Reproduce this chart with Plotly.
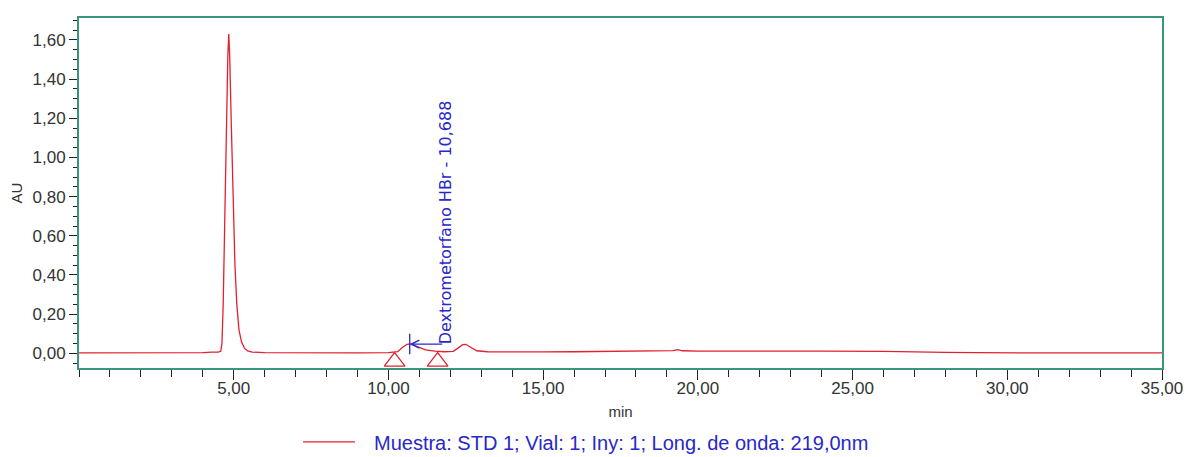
import plotly.graph_objects as go

# Chromatogram trace: retention time (min) and absorbance (AU)
tiempo = [0.0, 1.0, 2.0, 3.0, 4.0, 4.3, 4.5, 4.58, 4.62, 4.66, 4.70, 4.76, 4.81, 4.84,
          4.87, 4.92, 4.98, 5.04, 5.10, 5.17, 5.25, 5.35, 5.45, 5.6, 6.0, 7.0, 8.0,
          9.0, 10.0, 10.3, 10.45, 10.6, 10.7, 10.8, 11.0, 11.2, 11.5, 11.8, 12.1,
          12.25, 12.4, 12.5, 12.65, 12.85, 13.2, 14.0, 15.0, 16.0, 17.0, 18.0, 19.0,
          19.2, 19.35, 19.5, 20.0, 22.0, 24.0, 26.0, 27.0, 28.0, 29.0, 30.0, 32.0, 35.0]
au = [0.002, 0.002, 0.002, 0.002, 0.004, 0.006, 0.006, 0.010, 0.05, 0.25, 0.62, 1.15, 1.52, 1.63,
      1.52, 1.18, 0.80, 0.45, 0.25, 0.12, 0.06, 0.025, 0.012, 0.006, 0.003, 0.002, 0.002,
      0.002, 0.003, 0.008, 0.030, 0.046, 0.048, 0.042, 0.028, 0.018, 0.011, 0.008, 0.010,
      0.025, 0.044, 0.046, 0.030, 0.013, 0.008, 0.006, 0.007, 0.008, 0.010, 0.012, 0.012,
      0.014, 0.019, 0.013, 0.011, 0.012, 0.011, 0.010, 0.009, 0.005, 0.003, 0.002, 0.002, 0.002]

# Integration start/end events
eventos_t = [10.2, 11.59]
eventos_y = [-0.042, -0.042]

# Identified peak
pico_nombre = "Dextrometorfano HBr - 10,688"
pico_t = 10.688
pico_y = 0.047

leyenda = "Muestra: STD 1; Vial: 1; Iny: 1; Long. de onda: 219,0nm"

x_ticks = [5, 10, 15, 20, 25, 30, 35]
y_ticks = [0.0, 0.2, 0.4, 0.6, 0.8, 1.0, 1.2, 1.4, 1.6]

eje = "rgb(58,150,122)"
rojo = "rgb(226,32,48)"
azul = "rgb(40,40,200)"
texto = "#333333"

fig = go.Figure()
fig.add_trace(go.Scatter(
    x=tiempo, y=au, mode="lines", name=leyenda,
    line=dict(color=rojo, width=1.3), showlegend=False,
))
fig.add_trace(go.Scatter(
    x=eventos_t, y=eventos_y, mode="markers", showlegend=False,
    marker=dict(symbol="triangle-up-open", size=18, color=rojo,
                line=dict(color=rojo, width=1.2)),
    cliponaxis=False,
))

# Peak marker: vertical bar at retention time plus arrow to the label
fig.add_shape(type="line", x0=pico_t, x1=pico_t, y0=-0.005, y1=0.10,
              xref="x", yref="y", line=dict(color=azul, width=1.3))
fig.add_annotation(x=pico_t, y=pico_y, xref="x", yref="y", text="",
                   showarrow=True, ax=34, ay=0, axref="pixel", ayref="pixel",
                   arrowhead=5, arrowsize=1.3, arrowwidth=1.2, arrowcolor=azul,
                   standoff=0)
fig.add_annotation(x=11.83, y=0.036, xref="x", yref="y", text=pico_nombre,
                   textangle=-90, showarrow=False, xanchor="center", yanchor="bottom",
                   font=dict(family="DejaVu Sans", size=16, color=azul))

# Legend below the axis: line sample and caption
fig.add_shape(type="line", xref="paper", yref="paper", x0=0.2068, x1=0.2548,
              y0=-0.211, y1=-0.211, line=dict(color=rojo, width=1.3))
fig.add_annotation(xref="paper", yref="paper", x=0.2705, y=-0.213, text=leyenda,
                   showarrow=False, xanchor="left", yanchor="middle",
                   font=dict(family="Liberation Sans, Arial", size=20, color=azul))

fig.update_layout(
    width=1187, height=457,
    margin=dict(l=79, r=25, t=18, b=89, autoexpand=False),
    paper_bgcolor="white", plot_bgcolor="white",
    separators=",.",
    font=dict(family="Liberation Sans, Arial", size=16, color=texto),
    showlegend=False,
)
fig.update_xaxes(
    range=[0, 35], tickmode="array", tickvals=x_ticks,
    ticktext=[f"{v:.2f}".replace(".", ",") for v in x_ticks],
    ticks="outside", ticklen=10, tickwidth=1, tickcolor="#222",
    ticklabelstandoff=-6,
    minor=dict(tickmode="linear", tick0=0, dtick=1, ticks="outside",
               ticklen=7, tickwidth=1, tickcolor="#222"),
    showline=True, linecolor=eje, linewidth=2, mirror=True,
    showgrid=False, zeroline=False, automargin=False,
    title=dict(text="min", font=dict(size=15, color=texto), standoff=9),
    tickfont=dict(size=17, color=texto),
)
fig.update_yaxes(
    range=[-0.075, 1.712], tickmode="array", tickvals=y_ticks,
    ticktext=[f"{v:.2f}".replace(".", ",") for v in y_ticks],
    ticks="outside", ticklen=8, tickwidth=1, tickcolor="#222",
    minor=dict(tickmode="linear", tick0=0, dtick=0.05, ticks="outside",
               ticklen=4, tickwidth=1, tickcolor="#222"),
    showline=True, linecolor=eje, linewidth=2, mirror=True,
    showgrid=False, zeroline=False, automargin=False,
    title=dict(text="AU", font=dict(size=15, color=texto), standoff=6),
    tickfont=dict(size=17, color=texto),
)

fig.write_html("out.html")
